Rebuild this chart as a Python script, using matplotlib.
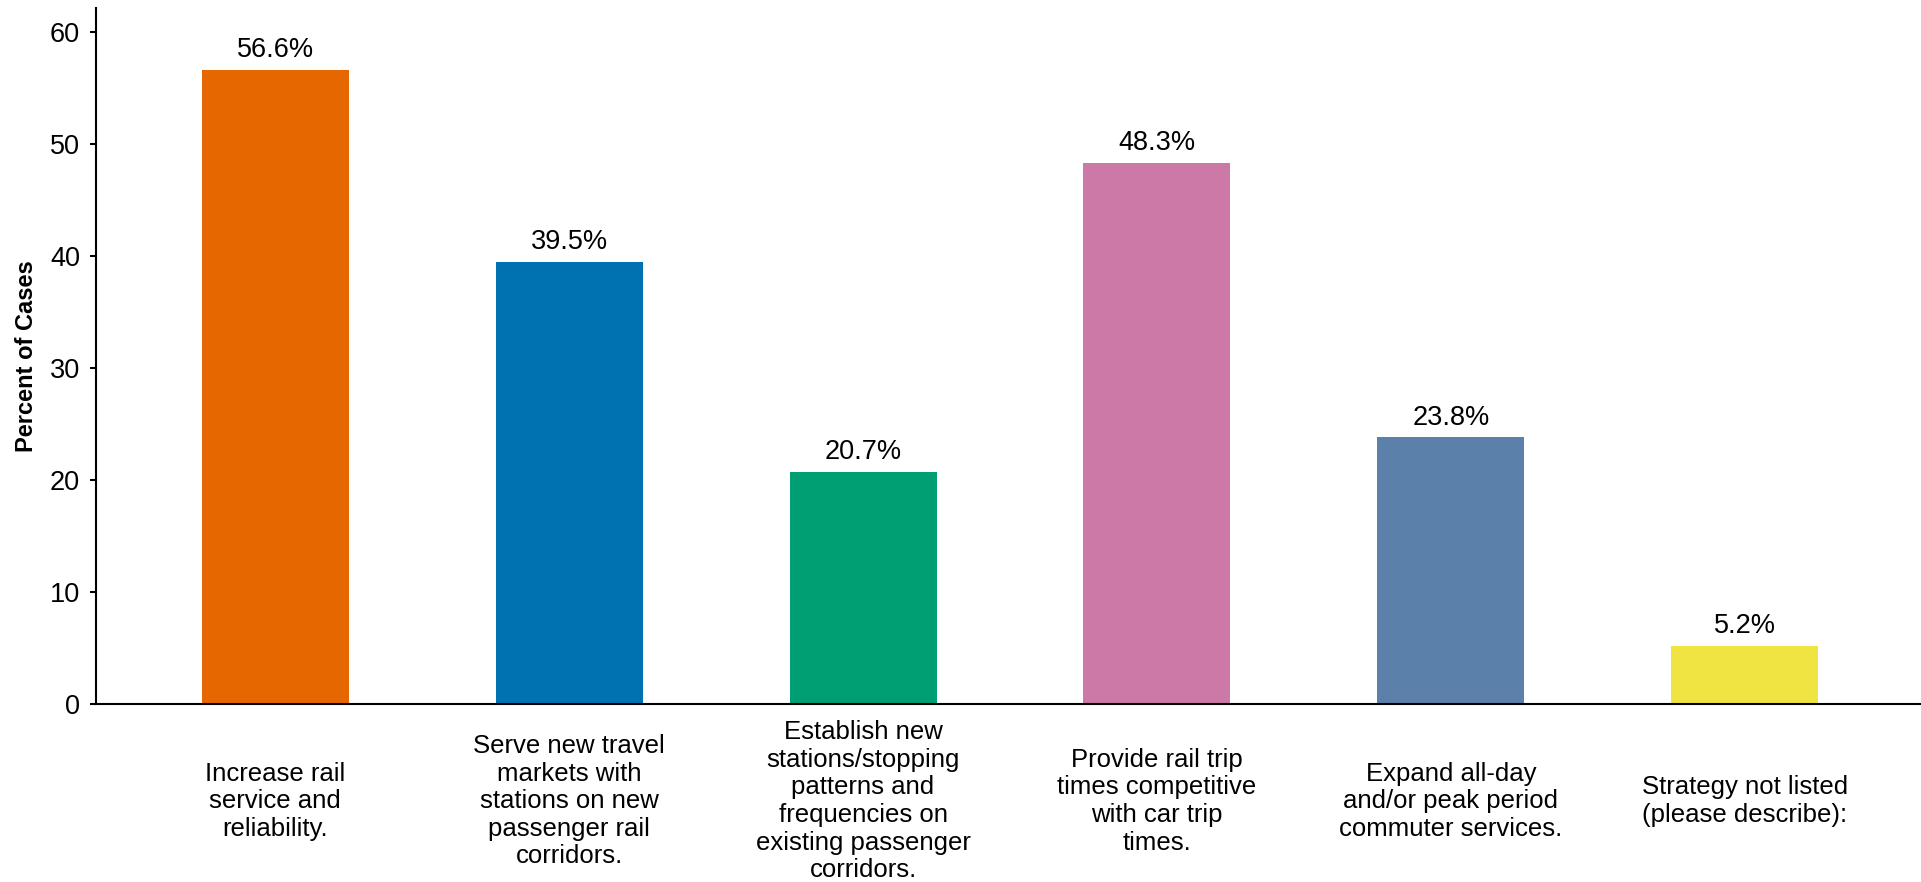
import matplotlib
matplotlib.use('Agg')
import matplotlib.pyplot as plt

plt.rcParams['font.family'] = ['Liberation Sans', 'DejaVu Sans']

# chart data
categories = [
    'Increase rail\nservice and\nreliability.',
    'Serve new travel\nmarkets with\nstations on new\npassenger rail\ncorridors.',
    'Establish new\nstations/stopping\npatterns and\nfrequencies on\nexisting passenger\ncorridors.',
    'Provide rail trip\ntimes competitive\nwith car trip\ntimes.',
    'Expand all-day\nand/or peak period\ncommuter services.',
    'Strategy not listed\n(please describe):',
]
percents = [56.6, 39.5, 20.7, 48.3, 23.8, 5.2]
bar_colors = ['#E66600', '#0072B2', '#009E73', '#CC79A7', '#5B80AA', '#F0E442']
y_ticks = [0, 10, 20, 30, 40, 50, 60]

fig = plt.figure(figsize=(19.21, 8.82), dpi=100)
ax = fig.add_axes([0.05, 0.2018, 0.95, 0.7892])

xs = list(range(len(categories)))
bars = ax.bar(xs, percents, width=0.5, color=bar_colors)

# value labels above bars
for x, v in zip(xs, percents):
    ax.annotate(f'{v}%', (x, v), xytext=(0, 5), textcoords='offset points',
                ha='center', va='bottom', fontsize=19.5)

ax.set_xlim(-0.61, 5.6)
ax.set_ylim(0, 62.15)
ax.set_yticks(y_ticks)
ax.tick_params(axis='y', labelsize=19.5, length=4.5, width=1.5, pad=7)

ax.set_xticks(xs)
ax.set_xticklabels(categories, fontsize=18.5, linespacing=1.19)
ax.tick_params(axis='x', length=0, pad=70)
for lbl in ax.get_xticklabels():
    lbl.set_verticalalignment('center')
    lbl.set_multialignment('center')

ax.set_ylabel('Percent of Cases', fontsize=17, fontweight='bold')
ax.yaxis.set_label_coords(-0.032, 0.5)

ax.spines['top'].set_visible(False)
ax.spines['right'].set_visible(False)
ax.spines['left'].set_linewidth(1.5)
ax.spines['bottom'].set_linewidth(1.5)

fig.savefig('out.png', dpi=100)
